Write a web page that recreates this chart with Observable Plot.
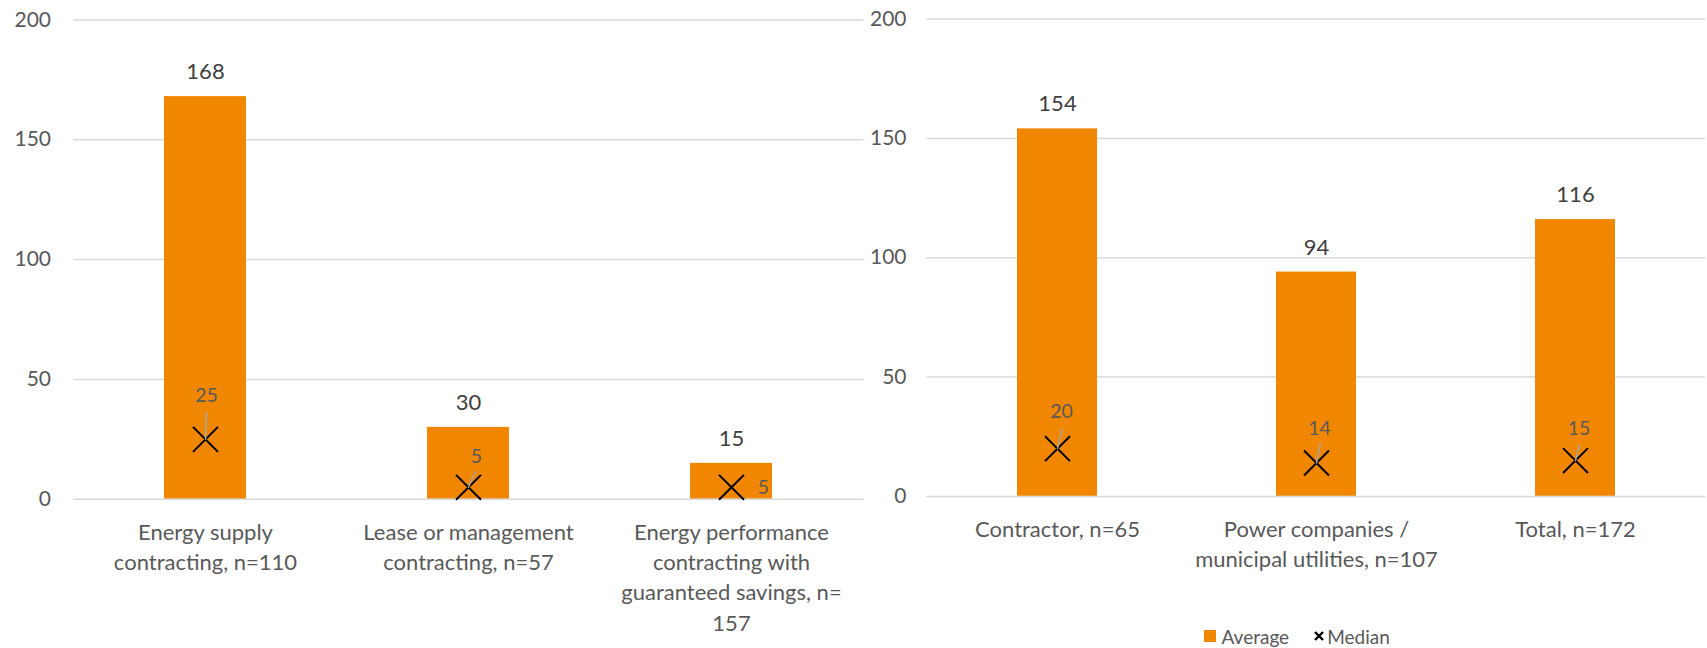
<!DOCTYPE html>
<html><head><meta charset="utf-8">
<script src="https://cdn.jsdelivr.net/npm/d3@7"></script>
<script src="https://cdn.jsdelivr.net/npm/@observablehq/plot@0.6"></script>
<style>
body{margin:0;background:#fff;font-family:Lato,sans-serif;}
#wrap{position:relative;width:1707px;height:648px;overflow:hidden;background:#fff;}
#left,#right{position:absolute;top:0;}
#left{left:0px}
#right{left:864px}
#wrap svg{background:transparent !important;max-width:none !important;}
#legend{position:absolute;top:626px;left:1204px;height:20px;display:flex;align-items:center;font-size:19px;color:#595959;font-family:Lato,sans-serif;}
#legend .sw{display:inline-block;width:11.5px;height:11.5px;background:#f18700;margin-right:6px;}
#legend .lbl{margin-right:25px;}
#legend svg{margin-right:3px;}
</style></head><body>
<div id="wrap"><div id="left"></div><div id="right"></div><div id="legend"></div></div>
<script>
// ---- data ----
const leftCategories = ["Energy supply\ncontracting, n=110", "Lease or management\ncontracting, n=57", "Energy performance\ncontracting with\nguaranteed savings, n=\n157"];
const leftAverage = [168, 30, 15];
const leftMedian = [25, 5, 5];
const rightCategories = ["Contractor, n=65", "Power companies /\nmunicipal utilities, n=107", "Total, n=172"];
const rightAverage = [154, 94, 116];
const rightMedian = [20, 14, 15];
const yTicks = [0, 50, 100, 150, 200];
const legendLabels = ["Average", "Median"];

// ---- styling (label placement, leader lines) ----
const leftLabelOffsets = [[1, -44], [8, -31], [32, 0]];
const leftLeaders = [[27, 2], [17, 24], null];
const rightLabelOffsets = [[4, -37], [3, -34], [3.5, -32]];
const rightLeaders = [[20, 12.7], [20, 10.7], [16, 15]];

const ORANGE = "#f18700";
const leaderShape = {draw(context, l) { context.moveTo(0, 0); context.lineTo(0, -l); }};

function panel(o) {
  const rows = o.categories.map((c, i) => ({category: c, average: o.average[i], median: o.median[i]}));
  const marks = [
    Plot.ruleY(yTicks.filter(d => d > 0), {stroke: "#d9d9d9", strokeWidth: 1.5}),
    Plot.axisY({ticks: yTicks, tickSize: 0, tickPadding: o.tickPadding, fontSize: 21, color: "#595959", tickFormat: d => String(d)}),
    Plot.barY(rows, {x: "category", y: "average", fill: ORANGE}),
    Plot.ruleY([0], {stroke: "#d9d9d9", strokeWidth: 1.5}),
    Plot.text(rows, {x: "category", y: "average", text: d => String(d.average), lineAnchor: "bottom", dy: -17.5, fontSize: 22, fill: "#404040"}),
    Plot.text(rows, {x: "category", y: 0, text: "category", lineAnchor: "top", dy: 19, fontSize: 22, lineHeight: 1.377, fill: "#595959"}),
    Plot.dot(rows, {x: "category", y: "median", symbol: "times", r: 11.4, stroke: "#000", strokeWidth: 2})
  ];
  rows.forEach((r, i) => {
    const L = o.leaders[i];
    if (L) marks.push(Plot.vector([r], {x: "category", y: "median", length: L[0], rotate: L[1], anchor: "start", stroke: "#a6a6a6", strokeWidth: 1.5, shape: leaderShape}));
  });
  rows.forEach((r, i) => {
    const [dx, dy] = o.labelOffsets[i];
    marks.push(Plot.text([r], {x: "category", y: "median", text: d => String(d.median), dx, dy, lineAnchor: "middle", fontSize: 19.5, fill: "#595959"}));
  });
  return Plot.plot({
    width: o.width, height: o.height,
    marginLeft: o.marginLeft, marginRight: o.marginRight, marginTop: o.marginTop, marginBottom: o.marginBottom,
    x: {domain: o.categories, paddingInner: 0.69, paddingOuter: 0.345, axis: null},
    y: {domain: [0, 200]},
    style: {fontFamily: "Lato, sans-serif", background: "transparent", overflow: "visible"},
    marks
  });
}

document.getElementById("left").appendChild(panel({
  categories: leftCategories, average: leftAverage, median: leftMedian,
  width: 864, height: 648, marginLeft: 73, marginRight: 0.5, marginTop: 19.4, marginBottom: 149.2,
  tickPadding: 22.5, labelOffsets: leftLabelOffsets, leaders: leftLeaders
}));
document.getElementById("right").appendChild(panel({
  categories: rightCategories, average: rightAverage, median: rightMedian,
  width: 843, height: 620, marginLeft: 62.3, marginRight: 2, marginTop: 18.6, marginBottom: 124.1,
  tickPadding: 20.3, labelOffsets: rightLabelOffsets, leaders: rightLeaders
}));

// legend
const legend = document.getElementById("legend");
legend.innerHTML =
  `<span class="sw"></span><span class="lbl">${legendLabels[0]}</span>` +
  `<svg width="10" height="10" viewBox="0 0 10 10"><path d="M1,1L9,9M9,1L1,9" stroke="#000" stroke-width="2.4" fill="none"/></svg>` +
  `<span>${legendLabels[1]}</span>`;
</script>
</body></html>
